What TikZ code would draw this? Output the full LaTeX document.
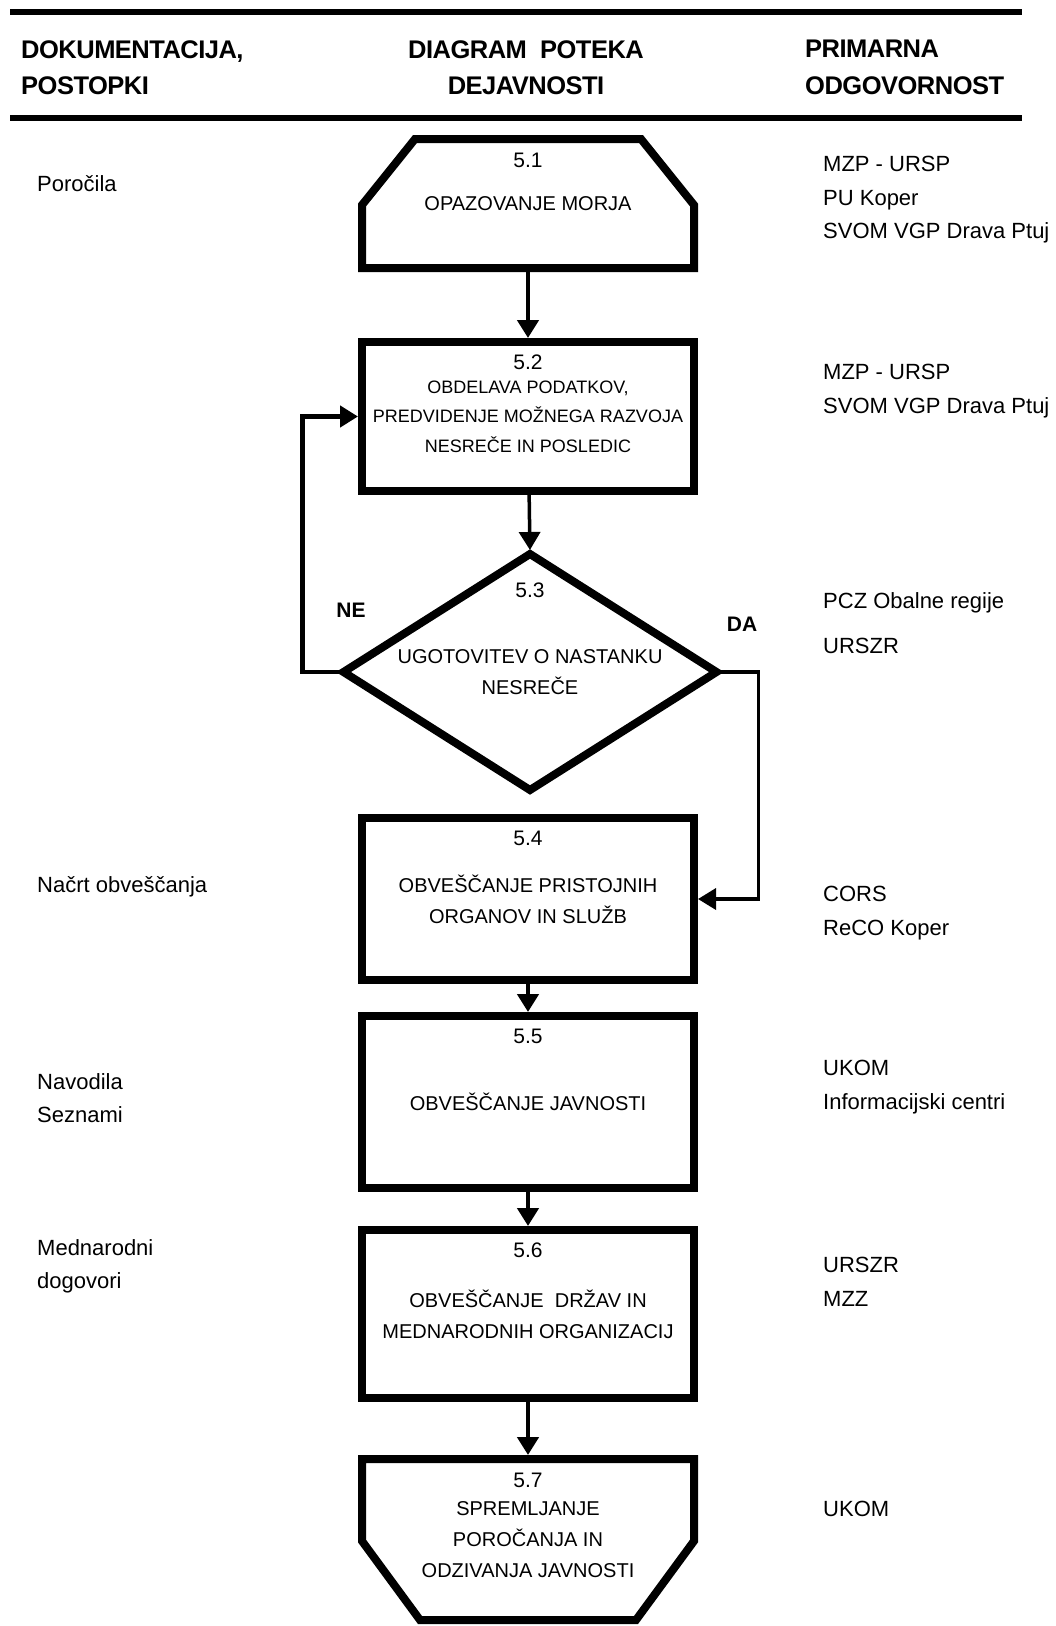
\documentclass[tikz,border=0pt]{standalone}
\usepackage{fontspec}
\setmainfont{Liberation Sans}
\newfontfamily\headfont{Liberation Sans}[LetterSpace=-2]
\usepackage{tikz}
\usetikzlibrary{positioning,arrows.meta,shapes.geometric}
\tikzset{line/.style={draw, line width=4.5pt, -{Triangle[length=18pt,width=21pt]}, shorten >=4pt}}

\begin{document}
\begin{tikzpicture}[x=1pt, y=-1pt,
  box/.style = {draw, line width=8pt, minimum width=332pt, inner sep=0pt, outer sep=0pt, align=center, font=\fontsize{20}{31}\selectfont},
  dec/.style = {diamond, draw, line width=8pt, minimum width=373pt, minimum height=236pt, shape aspect=1.6, inner sep=0pt, outer sep=0pt, align=center, font=\fontsize{20}{31}\selectfont},
  num/.style = {anchor=north, inner sep=0pt, font=\fontsize{21}{24}\selectfont},
  side/.style = {anchor=north west, inner sep=0pt, align=left, font=\fontsize{22}{33.5}\selectfont},
  head/.style = {anchor=north, inner sep=0pt, align=center, font=\headfont\bfseries\fontsize{25.5}{36.7}\selectfont},
  yn/.style = {inner sep=0pt, font=\bfseries\fontsize{21}{24}\selectfont}]
\useasboundingbox (0,0) rectangle (1056,1626);

% header
\draw[line width=6pt] (10,12.3) -- (1022,12.3);
\draw[line width=6pt] (10,118) -- (1022,118);
\node[head, anchor=north west, align=left] (h1) at (21,40) {DOKUMENTACIJA,\\POSTOPKI};
\node[head] (h2) at (526,40) {DIAGRAM~ POTEKA\\DEJAVNOSTI};
\node[head, anchor=north west, align=left] (h3) at (805,40) {PRIMARNA\\ODGOVORNOST};

% steps
\node[box, draw=none, minimum height=129pt] (1) at (528,203.5) {OPAZOVANJE MORJA};
\draw[line width=8pt] ([xshift=53pt]1.north west) -- ([xshift=-53pt]1.north east) -- ([yshift=-66pt]1.north east) -- (1.south east) -- (1.south west) -- ([yshift=-66pt]1.north west) -- cycle;
\node[box, minimum height=149pt, font=\fontsize{18}{29.5}\selectfont] (2) at (528,416.5) {OBDELAVA PODATKOV,\\PREDVIDENJE MOŽNEGA RAZVOJA\\NESREČE IN POSLEDIC};
\node[dec] (3) at (530,672) {UGOTOVITEV O NASTANKU\\NESREČE};
\node[box, minimum height=162pt] (4) at (528,899) {OBVEŠČANJE PRISTOJNIH\\ORGANOV IN SLUŽB};
\node[box, minimum height=172pt] (5) at (528,1102) {OBVEŠČANJE JAVNOSTI};
\node[box, minimum height=168pt] (6) at (528,1314) {OBVEŠČANJE~ DRŽAV IN\\MEDNARODNIH ORGANIZACIJ};
\node[box, draw=none, minimum height=161pt] (7) at (528,1539.5) {SPREMLJANJE\\POROČANJA IN\\ODZIVANJA JAVNOSTI};
\draw[line width=8pt] (7.north west) -- (7.north east) -- ([yshift=79pt]7.south east) -- ([xshift=-58pt]7.south east) -- ([xshift=58pt]7.south west) -- ([yshift=79pt]7.south west) -- cycle;

\node[num] (n1) [below=14pt of 1.north] {5.1};
\node[num] (n2) [below=12.5pt of 2.north] {5.2};
\node[num] (n3) [below=29pt of 3.north] {5.3};
\node[num] (n4) [below=12.5pt of 4.north] {5.4};
\node[num] (n5) [below=12.5pt of 5.north] {5.5};
\node[num] (n6) [below=12.5pt of 6.north] {5.6};
\node[num] (n7) [below=13.5pt of 7.north] {5.7};

\node[yn] (ne) at (351,610) {NE};
\node[yn] (da) at (742,624) {DA};

\draw[line] (1) -- (2);
\draw[line, line width=3.5pt] (2) -- (3.north);
\draw[line] (3.west) -- ++(-41,0) |- (2.west);
\draw[line, line width=3.5pt] (3.east) -- ++(42,0) |- (4.east);
\draw[line] (4) -- (5);
\draw[line] (5) -- (6);
\draw[line] (6) -- (7);

% documents
\node[side] (d1) at (37,175) {Poročila};
\node[side] (d4) at (37,876) {Načrt obveščanja};
\node[side] (d5) at (37,1073) {Navodila\\Seznami};
\node[side] (d6) at (37,1239) {Mednarodni\\dogovori};

% responsibility
\node[side] (o1) at (823,156) {MZP - URSP\\PU Koper\\SVOM VGP Drava Ptuj};
\node[side] (o2) at (823,364) {MZP - URSP\\SVOM VGP Drava Ptuj};
\node[side] (o3) at (823,592) {PCZ Obalne regije\\[12pt]URSZR};
\node[side] (o4) at (823,886) {CORS\\ReCO Koper};
\node[side] (o5) at (823,1060) {UKOM\\Informacijski centri};
\node[side] (o6) at (823,1257) {URSZR\\MZZ};
\node[side] (o7) at (823,1501) {UKOM};
\end{tikzpicture}
\end{document}
